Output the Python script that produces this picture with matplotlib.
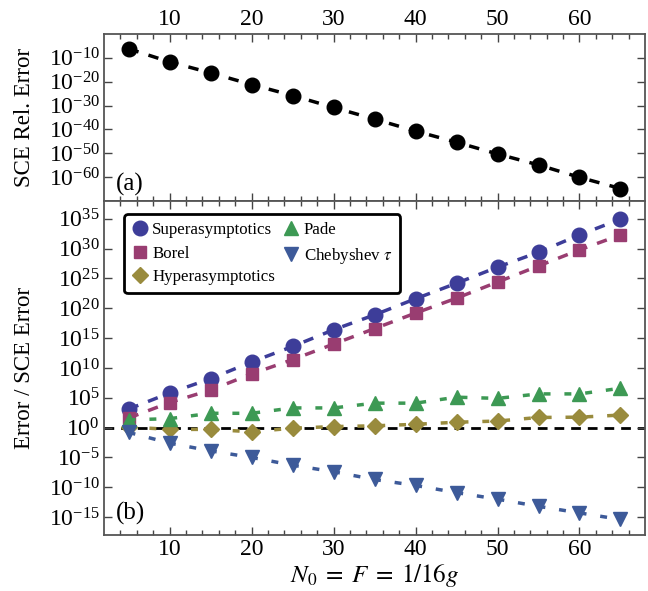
import matplotlib
matplotlib.use("Agg")
import matplotlib.pyplot as plt
import numpy as np

plt.rcParams["font.family"] = ["Liberation Serif", "DejaVu Serif"]
plt.rcParams["mathtext.fontset"] = "stix"

n0 = [5, 10, 15, 20, 25, 30, 35, 40, 45, 50, 55, 60, 65]
sce_log = [-6.2, -11.7, -16.3, -21.2, -25.8, -30.8, -35.7, -40.7, -45.4, -50.3, -54.9, -60.1, -64.8]

super_log = [3.1, 5.8, 8.2, 11.0, 13.6, 16.4, 18.9, 21.6, 24.2, 26.9, 29.4, 32.3, 34.95]
borel_log = [1.6, 4.2, 6.3, 9.0, 11.4, 14.0, 16.6, 19.2, 21.7, 24.4, 27.1, 29.8, 32.3]
pade_log = [1.3, 1.5, 2.4, 2.4, 3.3, 3.3, 4.1, 4.1, 5.1, 4.9, 5.65, 5.65, 6.6]
hyper_log = [0.1, -0.3, -0.3, -0.7, -0.1, 0.17, 0.3, 0.55, 0.9, 1.1, 1.7, 1.75, 2.1]
cheb_log = [-0.8, -2.6, -3.9, -5.0, -6.3, -7.4, -8.7, -9.7, -10.9, -12.0, -13.2, -14.3, -15.4]

c_super = (0.24, 0.24, 0.6)
c_borel = (0.6, 0.24, 0.442)
c_hyper = (0.6, 0.547, 0.24)
c_pade = (0.24, 0.6, 0.33)
c_cheb = (0.24, 0.353, 0.6)

fig = plt.figure(figsize=(6.48, 5.91), dpi=100)
ax1 = fig.add_axes([0.1605, 0.66, 0.835, 0.2825])
ax2 = fig.add_axes([0.1605, 0.0948, 0.835, 0.5652])

x = np.array(n0)

# --- (a) ---
ax1.semilogy(x, 10.0 ** np.array(sce_log), "o", color="black", ms=10.5,
             ls=(0, (3, 3)), lw=2.5)
ax1.set_ylim(1e-70, 1e0)
ax1.set_yticks([10.0 ** k for k in range(-60, -9, 10)])
ax1.set_ylabel("SCE Rel. Error", fontsize=16.5, labelpad=10)
ax1.text(0.022, 0.06, "(a)", transform=ax1.transAxes, fontsize=18)

# --- (b) ---
ax2.axhline(1.0, color="black", ls=(0, (3.5, 2.5)), lw=2, zorder=1)
ax2.semilogy(x, 10.0 ** np.array(super_log), "o", color=c_super, ms=10.5,
             ls=(0, (3, 3)), lw=2.5, label="Superasymptotics")
ax2.semilogy(x, 10.0 ** np.array(borel_log), "s", color=c_borel, ms=9,
             ls=(0, (3, 3)), lw=2.5, label="Borel")
ax2.semilogy(x, 10.0 ** np.array(hyper_log), "D", color=c_hyper, ms=8,
             ls=(0, (2, 4)), lw=2.5, label="Hyperasymptotics")
ax2.semilogy(x, 10.0 ** np.array(pade_log), "^", color=c_pade, ms=10,
             ls=(0, (2, 4)), lw=2.5, label="Pade")
ax2.semilogy(x, 10.0 ** np.array(cheb_log), "v", color=c_cheb, ms=10,
             ls=(0, (2, 4)), lw=2.5, label=r"Chebyshev $\tau$")
ax2.set_ylim(1e-18, 1e38)
ax2.set_yticks([10.0 ** k for k in range(-15, 36, 5)])
ax2.set_ylabel("Error / SCE Error", fontsize=16.5, labelpad=10)
ax2.set_xlabel(r"$N_0\;=\;F\;=\;1/16g$", fontsize=18, labelpad=1)
ax2.text(0.022, 0.045, "(b)", transform=ax2.transAxes, fontsize=18)

leg = ax2.legend(loc="upper left", ncol=2, fontsize=12.2, handlelength=0.9,
                 handletextpad=0.3, columnspacing=0.5, labelspacing=0.45,
                 borderpad=0.45, fancybox=True, framealpha=1,
                 bbox_to_anchor=(0.022, 0.985))
for h in leg.legend_handles:
    h.set_linestyle("none")
leg.get_frame().set_edgecolor("black")
leg.get_frame().set_linewidth(2)

for ax in (ax1, ax2):
    ax.set_xlim(2, 68)
    ax.set_xticks([10, 20, 30, 40, 50, 60])
    ax.set_xticks(np.arange(4, 68, 2), minor=True)
    ax.tick_params(which="both", direction="in", top=True, right=True,
                   labelsize=17, color="#444444", pad=3)
    ax.tick_params(which="major", length=6, width=1)
    ax.tick_params(which="minor", length=3.5, width=1)
    ax.yaxis.set_minor_locator(matplotlib.ticker.NullLocator())
    for s in ax.spines.values():
        s.set_color("#555555")
        s.set_linewidth(1.3)

ax1.tick_params(labeltop=True, labelbottom=False)
ax2.tick_params(labeltop=False, labelbottom=True)

fig.savefig("out.png", dpi=100)
